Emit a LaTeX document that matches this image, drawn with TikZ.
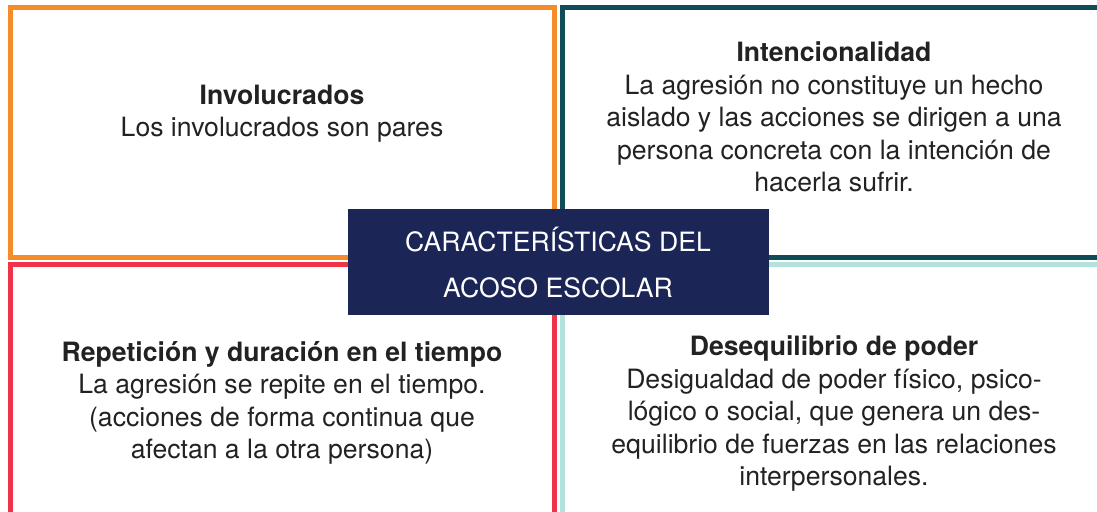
\documentclass[tikz,border=0pt]{standalone}
\usepackage{fontspec}
\setmainfont{TeX Gyre Heros}
\usepackage{xcolor}
\usepackage{tikz}
\usetikzlibrary{positioning}

\definecolor{involucradosline}{HTML}{F68B2A}
\definecolor{intencionline}{HTML}{0F4C57}
\definecolor{repeticionline}{HTML}{EE3446}
\definecolor{poderline}{HTML}{B3E1DB}
\definecolor{centrofill}{HTML}{1B2657}
\definecolor{texto}{HTML}{222222}

\begin{document}
\begin{tikzpicture}[x=0.5pt,y=-0.5pt,
    every node/.style={align=center,inner sep=0pt,anchor=base},
    frame/.style={line width=2.5pt},
    body/.style={text=texto,font=\fontsize{13.3}{16.3}\selectfont},
    centro/.style={text=white,font=\fontsize{13.3}{23}\selectfont}]
    \clip (0,0) rectangle (1097,512);
    \fill[white] (0,0) rectangle (1097,512);
    % marcos
    \draw[frame,involucradosline] (10.5,7.5) rectangle (554,257.5);
    \draw[frame,intencionline] (562.5,7.5) rectangle (1120,257.5);
    \draw[frame,repeticionline] (10.5,265) rectangle (554,540);
    \draw[frame,poderline] (562.5,264.5) rectangle (1120,540);
    % textos (base = ultima linea)
    \node[body] (involucrados) at (282,137) {\textbf{Involucrados}\\Los involucrados son pares};
    \node[body] (intencion) at (834,192) {\textbf{Intencionalidad}\\La agresión no constituye un hecho\\aislado y las acciones se dirigen a una\\persona concreta con la intención de\\hacerla sufrir.};
    \node[body] (repeticion) at (282,459) {\textbf{Repetición y duración en el tiempo}\\La agresión se repite en el tiempo.\\(acciones de forma continua que\\afectan a la otra persona)};
    \node[body] (poder) at (834,486) {\textbf{Desequilibrio de poder}\\Desigualdad de poder físico, psico-\\lógico o social, que genera un des-\\equilibrio de fuerzas en las relaciones\\interpersonales.};
    % centro
    \fill[centrofill] (348,209) rectangle (769,315);
    \node[centro] (titulo) at (558,298) {CARACTERÍSTICAS DEL\\ACOSO ESCOLAR};
\end{tikzpicture}
\end{document}
